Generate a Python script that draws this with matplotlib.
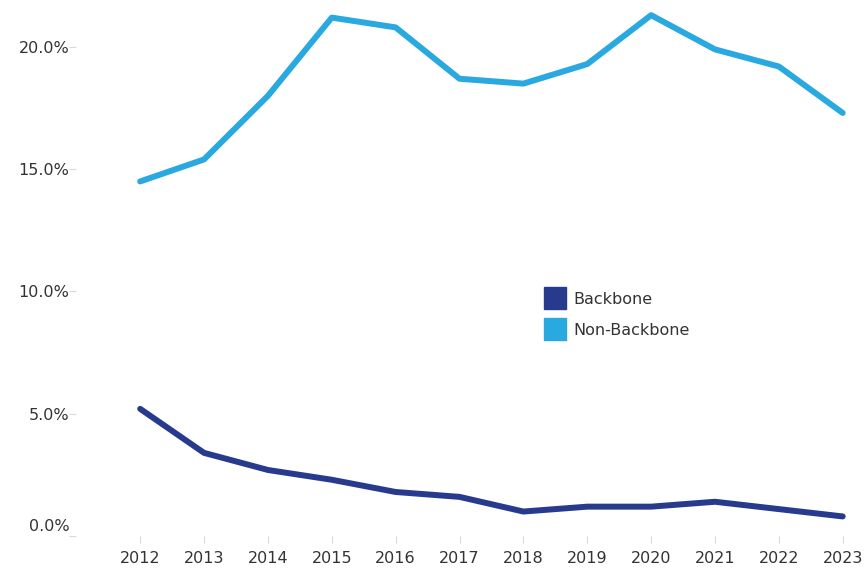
import matplotlib.pyplot as plt
from matplotlib.lines import Line2D
from matplotlib.ticker import FuncFormatter
import matplotlib.transforms as mtransforms

plt.rcParams['font.family'] = ['DejaVu Sans']

years = [2012, 2013, 2014, 2015, 2016, 2017, 2018, 2019, 2020, 2021, 2022, 2023]
backbone = [5.2, 3.4, 2.7, 2.3, 1.8, 1.6, 1.0, 1.2, 1.2, 1.4, 1.1, 0.8]
non_backbone = [14.5, 15.4, 18.0, 21.2, 20.8, 18.7, 18.5, 19.3, 21.3, 19.9, 19.2, 17.3]
y_ticks = [0, 5, 10, 15, 20]

dark_blue = "#283a8e"
light_blue = "#29a9e0"
text_col = "#333333"
tick_col = "#d9d9d9"


def main():
    fig = plt.figure(figsize=(8.67, 5.71), dpi=100)
    ax = fig.add_axes([0.088, 0.0613, 0.912, 0.9387])

    ax.plot(years, backbone, color=dark_blue, linewidth=4.3,
            solid_capstyle="round", solid_joinstyle="round")
    ax.plot(years, non_backbone, color=light_blue, linewidth=4.3,
            solid_capstyle="round", solid_joinstyle="round")

    ax.set_xlim(2011.0, 2023.38)
    ax.set_ylim(0, 21.92)

    ax.set_xticks(years)
    ax.set_xticklabels([str(y) for y in years])
    ax.set_yticks(y_ticks)
    ax.yaxis.set_major_formatter(FuncFormatter(lambda v, _: f"{v:.1f}%"))

    ax.tick_params(axis="both", colors=tick_col, labelcolor=text_col,
                   labelsize=11.5, length=5, width=0.8)
    ax.tick_params(axis="x", pad=6)
    ax.tick_params(axis="y", pad=0)

    for s in ax.spines.values():
        s.set_visible(False)

    # bottom label sits above the axis edge
    fig.canvas.draw()
    lab0 = ax.get_yticklabels()[0]
    lab0.set_transform(lab0.get_transform() +
                       mtransforms.ScaledTranslation(0, 11 / 100, fig.dpi_scale_trans))

    handles = [
        Line2D([], [], marker="s", linestyle="none", markersize=15.5,
               markerfacecolor=dark_blue, markeredgecolor=dark_blue),
        Line2D([], [], marker="s", linestyle="none", markersize=15.5,
               markerfacecolor=light_blue, markeredgecolor=light_blue),
    ]
    leg = ax.legend(handles, ["Backbone", "Non-Backbone"],
                    loc="upper left", bbox_to_anchor=(0.587, 0.468),
                    frameon=False, fontsize=11.5, handlelength=1.05,
                    handletextpad=0.6, labelspacing=1.0, borderaxespad=0)
    for t in leg.get_texts():
        t.set_color(text_col)

    fig.savefig("out.png", dpi=100)


if __name__ == "__main__":
    main()
